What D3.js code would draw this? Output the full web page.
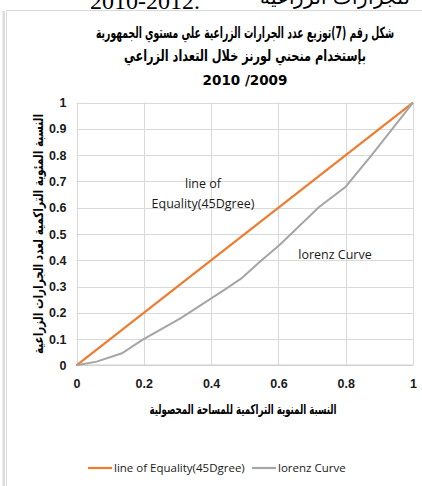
<!DOCTYPE html>
<html><head><meta charset="utf-8">
<script src="https://cdn.jsdelivr.net/npm/d3@7"></script>
<style>html,body{margin:0;padding:0;background:#fff;}svg{display:block;}</style>
</head><body>
<script>
const titleLines = ["شكل رقم (7)توزيع عدد الجرارات الزراعية علي مستوي الجمهورية", "بإستخدام منحني لورنز خلال التعداد الزراعي", "2010 /2009"];
const xTitle = "النسبة المنوية  التراكمية للمساحة المحصولية";
const yTitle = "النسبة المئوية التراكمية لعدد الجرارات الزراعية";
const seriesNames = ["line of Equality(45Dgree)", "lorenz Curve"];
const equalityX = [0, 1];
const equalityY = [0, 1];
const lorenzX = [0, 0.06, 0.135, 0.197, 0.31, 0.445, 0.49, 0.545, 0.605, 0.72, 0.8, 0.88, 1];
const lorenzY = [0, 0.014, 0.046, 0.098, 0.18, 0.292, 0.331, 0.394, 0.46, 0.602, 0.68, 0.805, 1];
const xTicks = [0, 0.2, 0.4, 0.6, 0.8, 1];
const yTicks = [0, 0.1, 0.2, 0.3, 0.4, 0.5, 0.6, 0.7, 0.8, 0.9, 1];

const W = 422, H = 486;
const svg = d3.select("body").append("svg").attr("width", W).attr("height", H);
const x = d3.scaleLinear().domain([0, 1]).range([76.5, 413]);
const y = d3.scaleLinear().domain([0, 1]).range([365.3, 102.7]);
const colors = ["#ED7D31", "#A5A5A5"];

// page fragments (text of the page above the chart, cut at the top edge)
svg.append("text").attr("x", 90).attr("y", 9).attr("font-family", "Liberation Serif").attr("font-size", 24).attr("fill", "#000").text("2010-2012.");
svg.append("text").attr("x", 410).attr("y", 4).attr("text-anchor", "start").attr("font-family", "DejaVu Serif, Liberation Serif").attr("font-size", 20).attr("fill", "#000").attr("direction","rtl").attr("textLength", 150).attr("lengthAdjust", "spacingAndGlyphs").text("للجرارات الزراعية");
svg.append("rect").attr("x", 2.5).attr("y", 11).attr("width", 2.5).attr("height", H - 11).attr("fill", "#dcdcdc");
svg.append("line").attr("x1", 6.5).attr("x2", W).attr("y1", 10.5).attr("y2", 10.5).attr("stroke", "#d9d9d9");
svg.append("line").attr("x1", 6.5).attr("x2", 6.5).attr("y1", 10.5).attr("y2", H).attr("stroke", "#d9d9d9");

// grid
const grid = svg.append("g");
grid.selectAll(".h").data(yTicks).join("line")
  .attr("x1", x(0)).attr("x2", x(1)).attr("y1", d => Math.round(y(d)) + 0.5).attr("y2", d => Math.round(y(d)) + 0.5)
  .attr("stroke", "#d9d9d9").attr("stroke-width", 1);
grid.selectAll(".v").data(xTicks).join("line")
  .attr("y1", y(0)).attr("y2", y(1)).attr("x1", d => Math.round(x(d)) + 0.5).attr("x2", d => Math.round(x(d)) + 0.5)
  .attr("stroke", "#d9d9d9").attr("stroke-width", 1);
svg.append("line").attr("x1", x(0)).attr("x2", x(1)).attr("y1", y(0)).attr("y2", y(0)).attr("stroke", "#d0d0d0").attr("stroke-width", 1.5);

// axes labels
const yAxis = svg.append("g").attr("transform", `translate(${x(0)},0)`).call(d3.axisLeft(y).tickValues(yTicks).tickSize(0).tickPadding(10).tickFormat(d3.format("~g")));
yAxis.select(".domain").remove();
yAxis.selectAll("text").attr("font-family", "Liberation Sans, Arial").attr("font-size", 12.5).attr("font-weight", "bold").attr("fill", "#1a1a1a");
const xAxis = svg.append("g").attr("transform", `translate(0,${y(0)})`).call(d3.axisBottom(x).tickValues(xTicks).tickSize(0).tickPadding(14).tickFormat(d3.format("~g")));
xAxis.select(".domain").remove();
xAxis.selectAll("text").attr("font-family", "Liberation Sans, Arial").attr("font-size", 12.5).attr("font-weight", "bold").attr("fill", "#1a1a1a");

// lines
const line = d3.line().x(d => x(d[0])).y(d => y(d[1]));
svg.append("path").datum(equalityX.map((v, i) => [v, equalityY[i]])).attr("d", line).attr("fill", "none").attr("stroke", colors[0]).attr("stroke-width", 2.25);
svg.append("path").datum(lorenzX.map((v, i) => [v, lorenzY[i]])).attr("d", line).attr("fill", "none").attr("stroke", colors[1]).attr("stroke-width", 2);

// annotations
const ann = svg.append("g").attr("font-family", "Open Sans, Liberation Sans").attr("font-size", 12.5).attr("fill", "#1a1a1a").attr("text-anchor", "middle");
ann.append("text").attr("x", 203).attr("y", 188).text("line of");
ann.append("text").attr("x", 203).attr("y", 208).text("Equality(45Dgree)");
ann.append("text").attr("x", 335).attr("y", 259).text("lorenz Curve");

// titles
const t = svg.append("g").attr("font-family", "DejaVu Sans").attr("font-weight", "bold").attr("text-anchor", "middle").attr("fill", "#000");
const tY = [38, 61, 85];
const tLen = [298, 242, null];
const tSize = [15.5, 15.5, 13.5];
titleLines.forEach((s, i) => {
  const el = t.append("text").attr("x", 245).attr("y", tY[i]).attr("font-size", tSize[i]).attr("direction", i < 2 ? "rtl" : "ltr").text(s);
  if (tLen[i]) el.attr("textLength", tLen[i]).attr("lengthAdjust", "spacingAndGlyphs");
});

svg.append("text").attr("x", 243).attr("y", 414).attr("text-anchor", "middle").attr("font-family", "DejaVu Sans").attr("font-weight", "bold").attr("font-size", 13.5)
  .attr("direction", "rtl").attr("textLength", 187).attr("lengthAdjust", "spacingAndGlyphs").text(xTitle);
svg.append("text").attr("transform", `translate(43,234) rotate(-90)`).attr("text-anchor", "middle").attr("font-family", "DejaVu Sans").attr("font-weight", "bold").attr("font-size", 13.5)
  .attr("direction", "rtl").attr("textLength", 240).attr("lengthAdjust", "spacingAndGlyphs").text(yTitle);

// legend
const lg = svg.append("g").attr("font-family", "Open Sans, Liberation Sans").attr("font-size", 11.5).attr("fill", "#1a1a1a");
const lgX = [88, 252];
seriesNames.forEach((s, i) => {
  lg.append("line").attr("x1", lgX[i]).attr("x2", lgX[i] + 24).attr("y1", 468).attr("y2", 468).attr("stroke", colors[i]).attr("stroke-width", 2.25);
  lg.append("text").attr("x", lgX[i] + 26).attr("y", 472).text(s);
});
</script>
</body></html>
